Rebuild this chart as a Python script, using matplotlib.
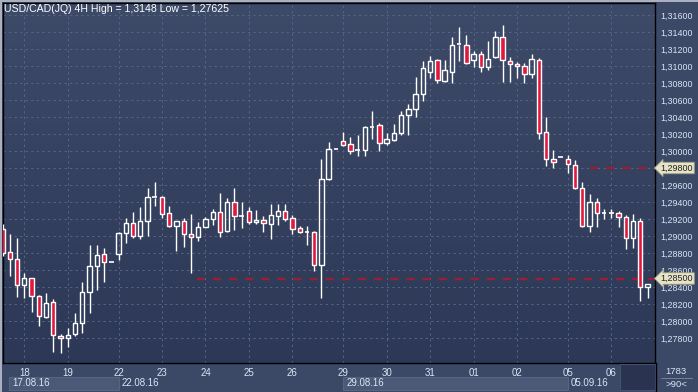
import numpy as np
import matplotlib
matplotlib.use('Agg')
from matplotlib import pyplot as plt
from matplotlib.patches import Rectangle
from matplotlib.colors import LinearSegmentedColormap
import matplotlib.transforms as mtransforms

# USD/CAD 4H candles (one per bar, left to right)
opens = [1.29082, 1.28808, 1.28729, 1.28427, 1.28502, 1.28291, 1.28051, 1.28220, 1.27827, 1.27796,
         1.27843, 1.27973, 1.28338, 1.28644, 1.28785, 1.28691, 1.28785, 1.29032, 1.29149, 1.29004,
         1.29180, 1.29451, 1.29455, 1.29267, 1.29121, 1.29173, 1.29027, 1.28992, 1.29109, 1.29196,
         1.29279, 1.29059, 1.29396, 1.29235, 1.29291, 1.29161, 1.29185, 1.29145, 1.29239, 1.29294,
         1.29212, 1.29094, 1.29044, 1.29044, 1.28662, 1.29671, 1.30020, 1.30114, 1.30082, 1.30008,
         1.30015, 1.30286, 1.30306, 1.30098, 1.30133, 1.30212, 1.30424, 1.30491, 1.30671, 1.30933,
         1.31067, 1.30827, 1.30933, 1.31251, 1.31251, 1.31067, 1.31138, 1.30985, 1.31106, 1.31338,
         1.31062, 1.31020, 1.30996, 1.30902, 1.31071, 1.30220, 1.29902, 1.29929, 1.29902, 1.29832,
         1.29561, 1.29121, 1.29396, 1.29267, 1.29267, 1.29267, 1.29218, 1.28973, 1.29182, 1.28396]
highs = [1.29141, 1.29024, 1.28980, 1.28565, 1.28506, 1.28309, 1.28326, 1.28259, 1.27843, 1.27914,
         1.28094, 1.28455, 1.28894, 1.28894, 1.28859, 1.28691, 1.29047, 1.29208, 1.29279, 1.29345,
         1.29565, 1.29635, 1.29474, 1.29353, 1.29173, 1.29208, 1.29259, 1.29165, 1.29227, 1.29314,
         1.29506, 1.29447, 1.29565, 1.29400, 1.29341, 1.29306, 1.29235, 1.29376, 1.29376, 1.29376,
         1.29244, 1.29118, 1.29118, 1.29062, 1.29906, 1.30106, 1.30020, 1.30224, 1.30165, 1.30188,
         1.30294, 1.30471, 1.30326, 1.30212, 1.30318, 1.30476, 1.30549, 1.30867, 1.31062, 1.31121,
         1.31079, 1.31071, 1.31345, 1.31462, 1.31365, 1.31173, 1.31180, 1.31291, 1.31412, 1.31480,
         1.31106, 1.31051, 1.31032, 1.31141, 1.31094, 1.30396, 1.30012, 1.29929, 1.29953, 1.29894,
         1.29632, 1.29494, 1.29444, 1.29318, 1.29318, 1.29298, 1.29244, 1.29257, 1.29208, 1.28439]
lows = [1.28765, 1.28529, 1.28286, 1.28274, 1.28109, 1.27945, 1.28032, 1.27639, 1.27625, 1.27698,
        1.27824, 1.27855, 1.28098, 1.28368, 1.28462, 1.28691, 1.28721, 1.28921, 1.28980, 1.28968,
        1.29000, 1.29353, 1.29215, 1.29109, 1.28827, 1.28874, 1.28568, 1.28945, 1.29102, 1.29133,
        1.28992, 1.29047, 1.29071, 1.29094, 1.29145, 1.29141, 1.29047, 1.28961, 1.29129, 1.29180,
        1.29024, 1.29039, 1.28894, 1.28592, 1.28274, 1.29659, 1.30020, 1.30062, 1.29965, 1.29941,
        1.29941, 1.30141, 1.30000, 1.30074, 1.30121, 1.30188, 1.30188, 1.30404, 1.30592, 1.30855,
        1.30796, 1.30812, 1.30804, 1.31059, 1.31027, 1.30985, 1.30926, 1.30953, 1.31091, 1.30815,
        1.30815, 1.30855, 1.30804, 1.30855, 1.30147, 1.29824, 1.29804, 1.29929, 1.29745, 1.29556,
        1.29109, 1.29051, 1.29109, 1.29200, 1.29215, 1.29109, 1.28844, 1.28855, 1.28239, 1.28274]
closes = [1.28800, 1.28726, 1.28420, 1.28506, 1.28291, 1.28055, 1.28208, 1.27832, 1.27796, 1.27832,
          1.27973, 1.28338, 1.28644, 1.28773, 1.28691, 1.28691, 1.29032, 1.29149, 1.29004, 1.29173,
          1.29455, 1.29455, 1.29255, 1.29121, 1.29173, 1.29027, 1.28985, 1.29109, 1.29196, 1.29279,
          1.29051, 1.29396, 1.29232, 1.29239, 1.29161, 1.29185, 1.29149, 1.29244, 1.29294, 1.29200,
          1.29086, 1.29044, 1.29047, 1.28662, 1.29667, 1.30020, 1.30020, 1.30074, 1.30004, 1.30012,
          1.30279, 1.30290, 1.30098, 1.30138, 1.30208, 1.30420, 1.30491, 1.30667, 1.30973, 1.31062,
          1.30832, 1.30949, 1.31244, 1.31255, 1.31032, 1.31138, 1.30988, 1.31086, 1.31338, 1.31067,
          1.31027, 1.31000, 1.30906, 1.31079, 1.30208, 1.29902, 1.29865, 1.29929, 1.29844, 1.29559,
          1.29121, 1.29396, 1.29267, 1.29271, 1.29271, 1.29220, 1.28973, 1.29174, 1.28404, 1.28439]

day_starts = [3, 9, 16, 22, 28, 34, 40, 47, 53, 59, 65, 71, 78, 84]
day_labels = ['18', '19', '22', '23', '24', '25', '26', '29', '30', '31', '01', '02', '05', '06']
week_starts = [16, 47, 78]
week_labels = ['17.08.16', '22.08.16', '29.08.16', '05.09.16']
price_ticks = [1.278 + 0.002 * k for k in range(20)]
levels = [1.298, 1.285]
level_start = [81, 26.8]

BG = '#3b4866'
RED = '#e3173e'
TXT = '#dbe5f5'
plt.rcParams['font.family'] = ['Liberation Sans', 'DejaVu Sans']
plt.rcParams['lines.scale_dashes'] = False


def fmt(v):
    return f"{v:.5f}".replace('.', ',')


def main():
    W, H = 698, 392
    fig = plt.figure(figsize=(W / 100, H / 100), dpi=100, facecolor=BG)
    ax = fig.add_axes([3 / W, 29 / H, 652 / W, 360 / H])

    xlim = (0.06, 90.03)
    ylim = (1.275059, 1.317412)

    # background gradient
    cmap = LinearSegmentedColormap.from_list('bg', ['#2c3856', '#3e4b68'])
    grad = np.linspace(0, 1, 256).reshape(-1, 1)
    ax.imshow(grad, extent=[0, 1, 0, 1], transform=ax.transAxes, aspect='auto',
              cmap=cmap, origin='lower', zorder=0)

    # candles
    for i, (o, h, l, c) in enumerate(zip(opens, highs, lows, closes)):
        top, bot = max(o, c), min(o, c)
        ax.vlines(i, top, h, color='white', lw=1.0, zorder=3)
        ax.vlines(i, l, bot, color='white', lw=1.0, zorder=3)
        if top - bot < 0.00005:
            ax.hlines((o + c) / 2, i - 0.32, i + 0.32, color='white', lw=1.2, zorder=4)
        else:
            fc = RED if c < o else 'none'
            ax.add_patch(Rectangle((i - 0.3, bot), 0.6, top - bot, facecolor=fc,
                                   edgecolor='white', lw=1.0, zorder=4))

    # level lines
    for lvl, x0 in zip(levels, level_start):
        ax.hlines(lvl, x0, xlim[1] + 1, color='#a01c32', lw=1.6,
                  linestyle=(0, (5.8, 5.8)), zorder=2)

    ax.set_xlim(*xlim)
    ax.set_ylim(*ylim)

    # the tag at a level replaces that level's own tick label
    ax.yaxis.tick_right()
    ax.set_yticks(price_ticks)
    ax.set_yticklabels(['' if any(abs(v - l) < 1e-6 for l in levels) else fmt(v)
                        for v in price_ticks])
    ax.tick_params(axis='y', length=0, pad=4, labelsize=6.4, labelcolor=TXT)
    ax.set_xticks(day_starts)
    ax.set_xticklabels(day_labels)
    ax.tick_params(axis='x', length=0, pad=3.5, labelsize=7, labelcolor=TXT)
    ax.grid(True, color='#56658a', lw=0.7, linestyle=(0, (1.6, 2.4)), zorder=1)
    for s in ax.spines.values():
        s.set_color('black')
        s.set_linewidth(1.0)

    # price tags
    tr = mtransforms.blended_transform_factory(ax.transAxes, ax.transData)
    for lvl in levels:
        ax.text(1.0085, lvl, fmt(lvl), transform=tr, ha='left', va='center',
                fontsize=6.5, color='#222222', zorder=10, clip_on=False,
                bbox=dict(boxstyle='larrow,pad=0.14', fc='#e6e3c6', ec='#9c9a82', lw=0.6))

    # bottom week strip
    trx = mtransforms.blended_transform_factory(ax.transData, fig.transFigure)
    bounds = [0.9] + week_starts + [85.2]
    for k, lab in enumerate(week_labels):
        x0, x1 = bounds[k], bounds[k + 1]
        if k % 2 == 0:
            fig.add_artist(Rectangle((x0, 2 / H), x1 - x0, 13 / H, transform=trx,
                                     facecolor='#4c5976', edgecolor='#5d6a86', lw=0.6))
        fig.text(x0 + 0.45, 8.5 / H, lab, transform=trx,
                 fontsize=7, color=TXT, va='center', ha='left')
    fig.add_artist(Rectangle((85.2, 2 / H), 90.03 - 85.2, 26 / H, transform=trx,
                             facecolor='#2a3450', edgecolor='#4a5674', lw=0.6))

    # bottom-right counter box
    fig.text(676 / W, 21 / H, '1783', fontsize=6.8, color=TXT, ha='center', va='center')
    fig.add_artist(plt.Line2D([661 / W, 692 / W], [14 / H, 14 / H], color='#7d8aa6', lw=0.6))
    fig.text(676 / W, 7.5 / H, '>90<', fontsize=6.8, color=TXT, ha='center', va='center')
    fig.add_artist(plt.Line2D([655.5 / W, 655.5 / W], [0, 29 / H], color='black', lw=1.0))

    # title
    fig.text(4 / W, 1 - 9.5 / H, 'USD/CAD(JQ) 4H High = 1,3148 Low = 1,27625',
             fontsize=7.6, color='white', ha='left', va='center')

    # outer frame
    fig.add_artist(Rectangle((0, 0), 2 / W, 1, transform=fig.transFigure,
                             facecolor='#a9b1be', edgecolor='none'))
    fig.add_artist(Rectangle((0, 1 - 2 / H), 1, 2 / H, transform=fig.transFigure,
                             facecolor='#a9b1be', edgecolor='none'))

    fig.savefig('out.png', dpi=100, facecolor=BG)


if __name__ == "__main__":
    main()
